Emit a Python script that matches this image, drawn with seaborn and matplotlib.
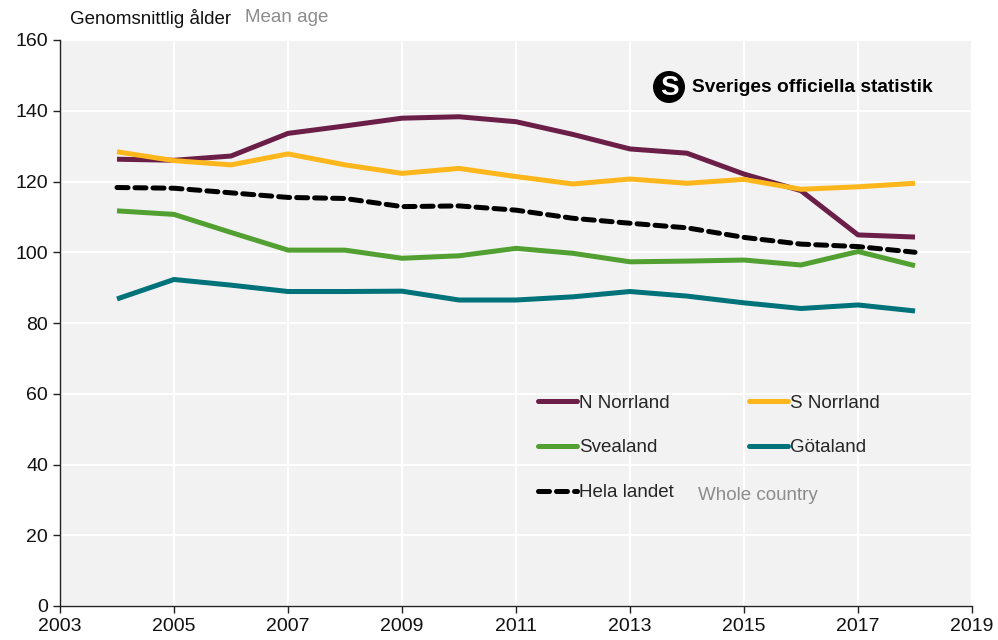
import matplotlib
matplotlib.use("Agg")
import matplotlib.pyplot as plt
import seaborn as sns
import pandas as pd
from matplotlib.lines import Line2D
from matplotlib.patches import Ellipse

years = list(range(2004, 2019))
n_norrland = [126.3, 126.0, 127.2, 133.6, 135.7, 137.9, 138.3, 136.9, 133.3, 129.2, 128.0, 122.1, 117.4, 104.9, 104.3]
s_norrland = [128.4, 125.9, 124.7, 127.8, 124.7, 122.3, 123.7, 121.4, 119.3, 120.7, 119.5, 120.6, 117.8, 118.5, 119.5]
svealand = [111.7, 110.7, 105.6, 100.6, 100.6, 98.3, 99.0, 101.1, 99.7, 97.3, 97.5, 97.8, 96.4, 100.2, 96.2]
gotaland = [86.8, 92.3, 90.7, 88.9, 88.9, 89.0, 86.5, 86.5, 87.4, 88.9, 87.6, 85.7, 84.1, 85.1, 83.4]
hela_landet = [118.3, 118.1, 116.8, 115.5, 115.2, 112.9, 113.1, 111.9, 109.6, 108.2, 106.9, 104.2, 102.3, 101.6, 100.0]

series_names = ["N Norrland", "S Norrland", "Svealand", "Götaland", "Hela landet"]
series_values = [n_norrland, s_norrland, svealand, gotaland, hela_landet]
colors = {"N Norrland": "#6b1f48", "S Norrland": "#fdb71c", "Svealand": "#52a032",
          "Götaland": "#00727a", "Hela landet": "#000000"}

x_ticks = list(range(2003, 2020, 2))
y_ticks = list(range(0, 161, 20))

rows = []
for name, vals in zip(series_names, series_values):
    for y, v in zip(years, vals):
        rows.append({"year": y, "value": v, "series": name})
df = pd.DataFrame(rows)

sns.set_theme(style="whitegrid")
plt.rcParams["font.family"] = ["Liberation Sans", "DejaVu Sans"]

fig = plt.figure(figsize=(9.98, 6.4), dpi=100)
ax = fig.add_axes([60/998, 34/640, 912/998, 566/640])
ax.set_facecolor("#f2f2f2")

lw = 3.6
sns.lineplot(data=df, x="year", y="value", hue="series", style="series",
             palette=colors, hue_order=series_names, style_order=series_names,
             dashes={"N Norrland": "", "S Norrland": "", "Svealand": "", "Götaland": "",
                     "Hela landet": (2.2, 1.4)},
             linewidth=lw, ax=ax, legend=False)
for line in ax.get_lines():
    line.set_dash_capstyle("round")
    line.set_solid_capstyle("butt")

ax.set_xlim(2003, 2019)
ax.set_ylim(0, 160)
ax.set_xticks(x_ticks)
ax.set_yticks(y_ticks)
ax.grid(True, color="white", linewidth=1.5)
ax.set_axisbelow(True)
ax.set_xlabel("")
ax.set_ylabel("")
for s in ["top", "right"]:
    ax.spines[s].set_visible(False)
for s in ["left", "bottom"]:
    ax.spines[s].set_visible(True)
    ax.spines[s].set_color("#222222")
    ax.spines[s].set_linewidth(1.0)
ax.tick_params(axis="both", which="both", length=5, width=1.0, color="#222222",
               labelsize=14, labelcolor="#111111", left=True, bottom=True, direction="out")

order = ["N Norrland", "Svealand", "Hela landet", "S Norrland", "Götaland"]
handles = []
for name in order:
    if name == "Hela landet":
        h = Line2D([], [], color=colors[name], lw=lw, linestyle=(0, (2.2, 1.4)), dash_capstyle="round")
    else:
        h = Line2D([], [], color=colors[name], lw=lw)
    handles.append(h)
leg = ax.legend(handles, order, ncol=2, loc="upper left", bbox_to_anchor=(470/912, 1 - (387-40)/566),
                frameon=False, fontsize=13.5, handlelength=2.1, handletextpad=0.1,
                columnspacing=4.0, labelspacing=1.48, borderaxespad=0)

fig.text(698/998, 1 - 495/640, "Whole country", fontsize=13.5, color="#8c8c8c", va="center", ha="left")

fig.text(70/998, 1 - 18/640, "Genomsnittlig ålder", fontsize=13.5, color="#111111", va="center", ha="left")
fig.text(245/998, 1 - 18/640, "Mean age", fontsize=13.5, color="#8c8c8c", va="center", ha="left")

# SOS logo
logo_x, logo_y = 669/998, 1 - 87/640
fig.patches.append(Ellipse((logo_x, logo_y), 32/998, 32/640, transform=fig.transFigure,
                           facecolor="black", edgecolor="none", figure=fig))
fig.text(logo_x, logo_y - 1/640, "S", fontsize=20, fontweight="bold", color="white",
         ha="center", va="center")
fig.text(692/998, 1 - 87/640, "Sveriges officiella statistik", fontsize=13.8, fontweight="bold",
         color="black", va="center", ha="left")

fig.savefig("out.png", dpi=100)
